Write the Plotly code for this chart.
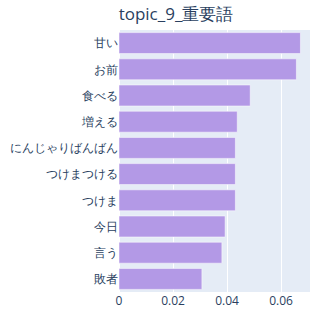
import plotly.graph_objects as go

words = ["甘い", "お前", "食べる", "増える", "にんじゃりばんばん", "つけまつける", "つけま", "今日", "言う", "敗者"]
scores = [0.0672, 0.0657, 0.0486, 0.0438, 0.0431, 0.0431, 0.0431, 0.0393, 0.0381, 0.0307]

fig = go.Figure(go.Bar(
    x=scores[::-1], y=words[::-1], orientation="h",
    marker=dict(color="#B399E6", line=dict(color="rgba(255,255,255,0.5)", width=1)),
))
fig.update_layout(
    template="plotly",
    width=320, height=320,
    margin=dict(l=119, r=10, t=30, b=28),
    font=dict(size=12, color="#2a3f5f"),
    title=dict(text="topic_9_重要語", x=0.55, xref="container", xanchor="center",
               y=0.955, yanchor="middle", font=dict(size=17)),
    bargap=0.2,
    showlegend=False,
)
fig.update_xaxes(tickvals=[0, 0.02, 0.04, 0.06], ticktext=["0", "0.02", "0.04", "0.06"])
fig.write_html("out.html")
